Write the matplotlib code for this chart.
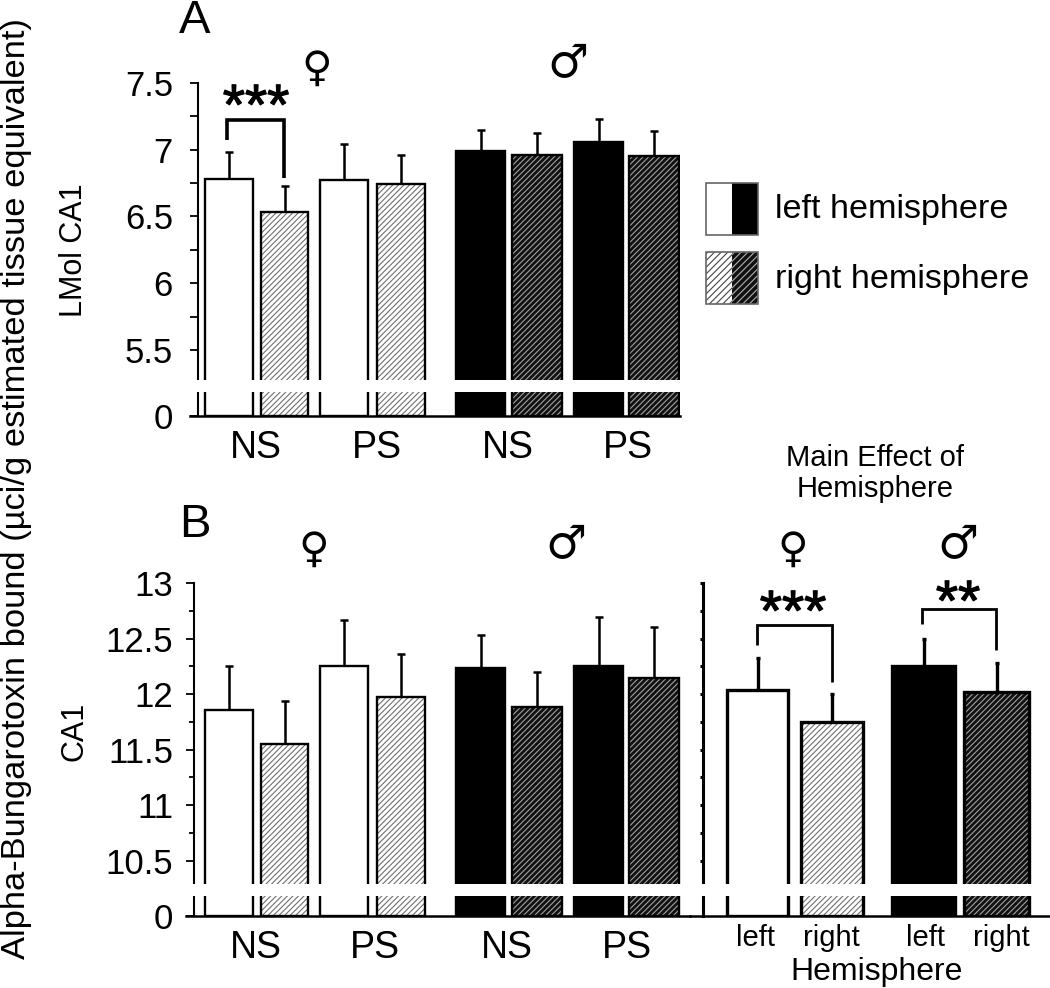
import matplotlib
matplotlib.use("Agg")
import matplotlib.pyplot as plt
from matplotlib.patches import Rectangle
import matplotlib.patheffects as pe

plt.rcParams['font.family'] = ['Liberation Sans', 'DejaVu Sans']
plt.rcParams['hatch.linewidth'] = 0.8

W, H = 1050, 988

# values
a_vals = [6.78, 6.53, 6.77, 6.74, 6.99, 6.96, 7.06, 6.95]
a_errs = [0.20, 0.195, 0.27, 0.22, 0.16, 0.165, 0.17, 0.19]
b_vals = [11.86, 11.55, 12.25, 11.97, 12.23, 11.88, 12.25, 12.14]
b_errs = [0.39, 0.39, 0.42, 0.39, 0.30, 0.32, 0.44, 0.46]
c_vals = [12.04, 11.75, 12.25, 12.02]
c_errs = [0.28, 0.25, 0.25, 0.26]

a_ticks = [5.005, 5.5, 6, 6.5, 7, 7.5]
a_ticklabels = ['0', '5.5', '6', '6.5', '7', '7.5']
b_ticks = [10, 10.5, 11, 11.5, 12, 12.5, 13]
b_ticklabels = ['0', '10.5', '11', '11.5', '12', '12.5', '13']
group_labels = ['NS', 'PS', 'NS', 'PS']
hemi_labels = ['left', 'right', 'left', 'right']

# layout, in pixels of the reference
bar_left = [205, 261, 320, 377, 456, 512, 574, 629]
bar_right = [253, 308, 368, 425, 505, 562, 623, 679]
c_left = [727, 801, 892, 964]
c_right = [788, 863, 955, 1029]
kinds = ['w', 'wh', 'w', 'wh', 'k', 'kh', 'k', 'kh']
c_kinds = ['w', 'wh', 'k', 'kh']


def ax_px(left, top, right, bottom):
    ax = fig.add_axes([left / W, 1 - bottom / H, (right - left) / W, (bottom - top) / H])
    ax.set_xlim(left, right)
    ax.patch.set_alpha(0)
    for s in ['top', 'right']:
        ax.spines[s].set_visible(False)
    return ax


def draw_bars(ax, lefts, rights, vals, errs, kinds, lw, cap, elw):
    base = ax.get_ylim()[0]
    for l, r, v, e, k in zip(lefts, rights, vals, errs, kinds):
        xc = (l + r) / 2
        ax.errorbar(xc, v, yerr=[[0], [e]], color='k', lw=elw, capsize=cap, capthick=elw, zorder=2)
        if k == 'w':
            ax.bar(xc, v - base, r - l, bottom=base, color='white', edgecolor='k', lw=lw, zorder=3)
        elif k == 'k':
            ax.bar(xc, v - base, r - l, bottom=base, color='k', edgecolor='k', lw=lw, zorder=3)
        else:
            fc, hc = ('white', '#707070') if k == 'wh' else ('#111111', '#a0a0a0')
            ax.bar(xc, v - base, r - l, bottom=base, color=fc, edgecolor=hc, lw=0, hatch='//////', zorder=3)
            ax.bar(xc, v - base, r - l, bottom=base, fill=False, edgecolor='k', lw=lw, zorder=3.1)


def bracket(ax, x0, x1, top, y0, y1, lw):
    ax.plot([x0, x0, x1, x1], [y0, top, top, y1], color='k', lw=lw, zorder=4,
            solid_joinstyle='miter', solid_capstyle='butt')


fig = plt.figure(figsize=(W / 100, H / 100), dpi=100)

# panel A
ax_a = ax_px(190, 83, 680, 416)
ax_a.set_ylim(5.005, 7.5)
ax_a.spines['left'].set_position(('data', 198))
ax_a.spines['left'].set_linewidth(1.5)
ax_a.spines['bottom'].set_linewidth(1.8)
ax_a.set_yticks(a_ticks)
ax_a.set_yticklabels(a_ticklabels, fontsize=25)
ax_a.set_yticks([5.25, 5.75, 6.25, 6.75, 7.25], minor=True)
ax_a.tick_params(axis='y', which='both', length=6, width=1.3, pad=12)
ax_a.set_xticks([256, 377, 508, 628])
ax_a.set_xticklabels(group_labels, fontsize=27)
ax_a.tick_params(axis='x', length=0, pad=10)
draw_bars(ax_a, bar_left, bar_right, a_vals, a_errs, kinds, 1.7, 3, 1.8)
ax_a.axhspan(5.185, 5.275, color='white', lw=0, zorder=5)
bracket(ax_a, 227, 284, 7.22, 7.07, 6.79, 2.6)

# panel B, left part
ax_b = ax_px(186, 583, 690, 916)
ax_b.set_ylim(10, 13)
ax_b.spines['left'].set_position(('data', 194))
ax_b.spines['left'].set_linewidth(1.5)
ax_b.spines['bottom'].set_linewidth(1.8)
ax_b.set_yticks(b_ticks)
ax_b.set_yticklabels(b_ticklabels, fontsize=25)
ax_b.set_yticks([10.25, 10.75, 11.25, 11.75, 12.25, 12.75], minor=True)
ax_b.tick_params(axis='y', which='major', length=6, width=1.3, pad=9)
ax_b.tick_params(axis='y', which='minor', length=3.5, width=1.3)
ax_b.set_xticks([256, 375, 507, 627])
ax_b.set_xticklabels(group_labels, fontsize=27)
ax_b.tick_params(axis='x', length=0, pad=10)
draw_bars(ax_b, bar_left, bar_right, b_vals, b_errs, kinds, 1.7, 3, 1.8)
ax_b.axhspan(10.18, 10.288, color='white', lw=0, zorder=5)

# panel B, main effect
ax_c = ax_px(690, 583, 1050, 916)
ax_c.set_ylim(10, 13)
ax_c.spines['left'].set_position(('data', 703))
ax_c.spines['left'].set_linewidth(2.2)
ax_c.spines['bottom'].set_linewidth(1.8)
ax_c.set_yticks(b_ticks[1:] + [10.25, 10.75, 11.25, 11.75, 12.25, 12.75])
ax_c.set_yticklabels([])
ax_c.tick_params(axis='y', length=2, width=2.2)
ax_c.set_xticks([755, 831, 925, 1001])
ax_c.set_xticklabels(hemi_labels, fontsize=21)
ax_c.tick_params(axis='x', length=0, pad=6)
draw_bars(ax_c, c_left, c_right, c_vals, c_errs, c_kinds, 2.4, 1.5, 2.4)
ax_c.axhspan(10.18, 10.288, color='white', lw=0, zorder=5)
bracket(ax_c, 757, 832, 12.62, 12.44, 12.11, 2)
bracket(ax_c, 922, 996, 12.77, 12.63, 12.40, 2)

# overlay in pixel coordinates for the free text and the legend
ov = fig.add_axes([0, 0, 1, 1])
ov.set_xlim(0, W)
ov.set_ylim(H, 0)
ov.axis('off')
ov.patch.set_alpha(0)

ov.text(17, 489, 'Alpha-Bungarotoxin bound (\u00b5ci/g estimated tissue equivalent)', rotation=90,
        fontsize=24.8, ha='center', va='center')
ov.text(74, 250, 'LMol CA1', rotation=90, fontsize=22, ha='center', va='center')
ov.text(74, 731, 'CA1', rotation=90, fontsize=22, ha='center', va='center')
ov.text(195, 33, 'A', fontsize=34, ha='center', va='baseline')
ov.text(195, 537, 'B', fontsize=34, ha='center', va='baseline')

for x, y in [(317, 69), (314, 550), (793, 550)]:
    ov.text(x, y, '\u2640', fontsize=30, ha='center', va='center', family='DejaVu Sans')
for x, y in [(568, 65), (566, 546), (958, 546)]:
    ov.text(x, y, '\u2642', fontsize=33, ha='center', va='center', family='DejaVu Sans')

stroke = [pe.withStroke(linewidth=0.9, foreground='k')]
for x, y, s in [(256, 124, '***'), (793, 630, '***'), (958, 620, '**')]:
    ov.text(x, y, s, fontsize=41, ha='center', va='baseline', path_effects=stroke)

ov.text(875, 458, 'Main Effect of', fontsize=21, ha='center', va='center')
ov.text(875, 489, 'Hemisphere', fontsize=21, ha='center', va='center')
ov.text(877, 972, 'Hemisphere', fontsize=23, ha='center', va='center')

# legend swatches
ov.add_patch(Rectangle((706, 183), 26, 52, fc='white', ec='none'))
ov.add_patch(Rectangle((732, 183), 26, 52, fc='black', ec='none'))
ov.add_patch(Rectangle((706, 183), 52, 52, fill=False, ec='#666666', lw=1.2))
ov.add_patch(Rectangle((706, 252), 26, 52, fc='white', ec='#444444', lw=0, hatch='/////'))
ov.add_patch(Rectangle((732, 252), 26, 52, fc='#111111', ec='#b0b0b0', lw=0, hatch='/////'))
ov.add_patch(Rectangle((706, 252), 52, 52, fill=False, ec='#666666', lw=1.2))
ov.text(775, 209, 'left hemisphere', fontsize=24.6, va='center')
ov.text(775, 279, 'right hemisphere', fontsize=24.6, va='center')

fig.savefig('out.png', dpi=100)
